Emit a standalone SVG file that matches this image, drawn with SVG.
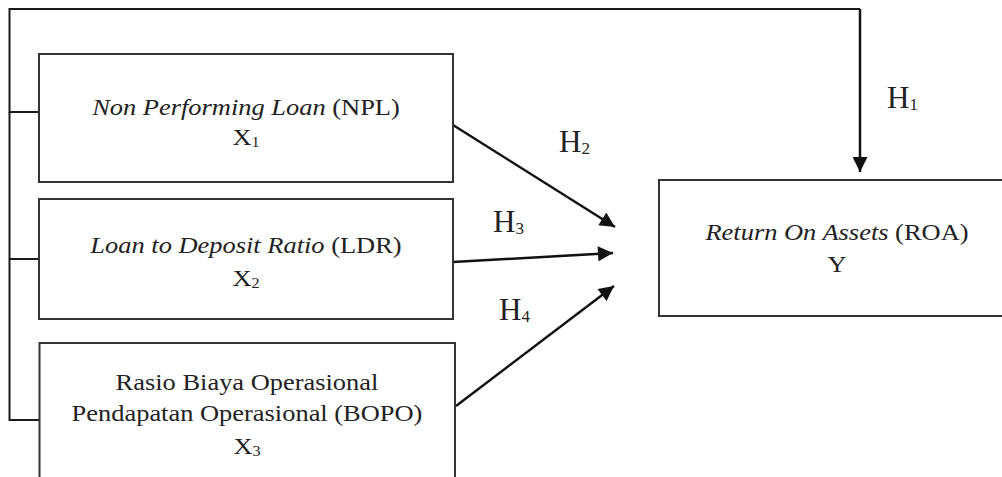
<svg xmlns="http://www.w3.org/2000/svg" width="1002" height="477" viewBox="0 0 1002 477">
<style>
.box{fill:#fff;stroke:#333;stroke-width:2}
.ln{fill:none;stroke:#1a1a1a;stroke-width:2}
.ar{fill:none;stroke:#111;stroke-width:2.5;marker-end:url(#ah)}
.t{font-family:"Liberation Serif","Times New Roman",serif;font-size:23px;fill:#222;text-anchor:middle}
.i{font-style:italic}
.sub{font-size:14px}
.h{font-family:"Liberation Serif","Times New Roman",serif;font-size:31px;fill:#222}
.hs{font-size:17px}
</style>
<defs>
<marker id="ah" viewBox="0 0 10 10" refX="10" refY="5" markerWidth="16" markerHeight="15" markerUnits="userSpaceOnUse" orient="auto">
<path d="M0,0 L10,5 L0,10 z" fill="#111"/>
</marker>
</defs>
<rect width="1002" height="477" fill="#fff"/>

<g id="connectors">
<polyline class="ln" points="39,112 9.5,112 9.5,9 860,9"/>
<line class="ln" x1="9.5" y1="259" x2="39" y2="259"/>
<polyline class="ln" points="9.5,112 9.5,420 39,420"/>
<line class="ar" x1="860" y1="9" x2="860" y2="172"/>
<line class="ar" x1="453" y1="125" x2="615" y2="227"/>
<line class="ar" x1="453" y1="262" x2="613" y2="253"/>
<line class="ar" x1="456" y1="406" x2="614" y2="286"/>
</g>

<g id="labels">
<text class="h" x="887" y="108">H<tspan class="hs" dy="2">1</tspan></text>
<text class="h" x="559" y="152">H<tspan class="hs" dy="2">2</tspan></text>
<text class="h" x="493" y="232">H<tspan class="hs" dy="2">3</tspan></text>
<text class="h" x="499" y="320">H<tspan class="hs" dy="2">4</tspan></text>
</g>

<g id="npl">
<rect class="box" x="39" y="54" width="414" height="128"/>
<text class="t" transform="translate(246,0) scale(1.15,1)" x="0" y="115"><tspan class="i">Non Performing Loan</tspan> (NPL)</text>
<text class="t" transform="translate(246,0) scale(1.15,1)" x="0" y="145">X<tspan class="sub" dy="2">1</tspan></text>
</g>

<g id="ldr">
<rect class="box" x="39" y="199" width="414" height="120"/>
<text class="t" transform="translate(246,0) scale(1.15,1)" x="0" y="253"><tspan class="i">Loan to Deposit Ratio</tspan> (LDR)</text>
<text class="t" transform="translate(246,0) scale(1.15,1)" x="0" y="286">X<tspan class="sub" dy="2">2</tspan></text>
</g>

<g id="bopo">
<rect class="box" x="39.5" y="343" width="415.5" height="150"/>
<text class="t" transform="translate(247,0) scale(1.15,1)" x="0" y="390">Rasio Biaya Operasional</text>
<text class="t" transform="translate(247,0) scale(1.15,1)" x="0" y="421">Pendapatan Operasional (BOPO)</text>
<text class="t" transform="translate(247,0) scale(1.15,1)" x="0" y="454">X<tspan class="sub" dy="2">3</tspan></text>
</g>

<g id="roa">
<rect class="box" x="659" y="180" width="360" height="136"/>
<text class="t" transform="translate(837,0) scale(1.15,1)" x="0" y="240"><tspan class="i">Return On Assets</tspan> (ROA)</text>
<text class="t" transform="translate(837,0) scale(1.15,1)" x="0" y="272">Y</text>
</g>
</svg>
